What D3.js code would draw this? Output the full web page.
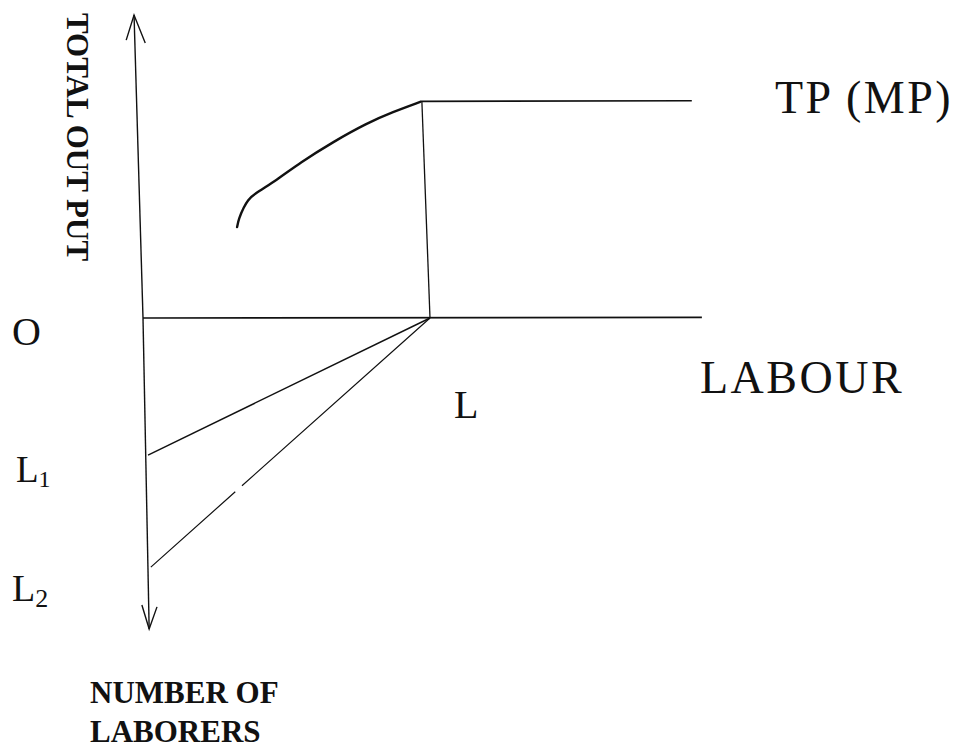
<!DOCTYPE html>
<html>
<head>
<meta charset="utf-8">
<script src="https://d3js.org/d3.v7.min.js"></script>
<style>
body { margin: 0; background: #fff; }
text { font-family: "Liberation Serif", "DejaVu Serif", serif; fill: #111; }
</style>
</head>
<body>
<script>

// diagram values, x = labour units, y = output (up) / labourers (down)
var axisUp = [[0, 0], [-0.16, 9.9]];
var axisDown = [[0, 0], [0.11, -10.16]];
var arrowUp = [[-0.30, 9.08], [-0.16, 9.9], [0.04, 8.99]];
var arrowDown = [[-0.02, -9.38], [0.11, -10.16], [0.25, -9.44]];
var labourAxis = [[0, 0], [9.98, 0.02]];

var tpCurve = [[1.68, 2.97], [1.71, 3.24], [1.80, 3.63], [1.88, 3.86], [1.96, 4.02],
  [2.39, 4.51], [2.80, 5.07], [3.39, 5.75], [4.0, 6.37], [4.46, 6.73], [4.95, 7.06]];
var tpFlat = [[4.95, 7.08], [9.8, 7.1]];
var lPoint = [5.125, 0];
var dropLine = [lPoint, [4.98, 7.08]];
var l1 = [0.09, -4.48];
var l2 = [0.14, -8.14];

var labels = ["O", "L", "TP (MP)", "LABOUR"];
var yTitle = "TOTAL OUT PUT";
var bottomTitle = ["NUMBER OF", "LABORERS"];

var width = 956, height = 751;

var x = d3.scaleLinear()
.domain([0, 10])
.range([143, 703]);

var y = d3.scaleLinear()
.domain([-10, 10])
.range([624, 12]);

var line = d3.line()
.x(function(d) { return x(d[0]); })
.y(function(d) { return y(d[1]); });

var curve = d3.line()
.curve(d3.curveBasis)
.x(function(d) { return x(d[0]); })
.y(function(d) { return y(d[1]); });

var svg = d3.select("body").append("svg")
.attr("width", width)
.attr("height", height);

var g = svg.append("g")
.attr("fill", "none")
.attr("stroke", "#111");

// axes
g.append("path").attr("d", line(axisUp)).attr("stroke-width", 1.4);
g.append("path").attr("d", line(axisDown)).attr("stroke-width", 1.4);
g.append("path").attr("d", line(arrowUp)).attr("stroke-width", 1.4);
g.append("path").attr("d", line(arrowDown)).attr("stroke-width", 1.4);
g.append("path").attr("d", line(labourAxis)).attr("stroke-width", 1.6);

// total product
g.append("path").attr("d", curve(tpCurve)).attr("stroke-width", 2.4).attr("stroke-linecap", "round");
g.append("path").attr("d", line(tpFlat)).attr("stroke-width", 1.6);
g.append("path").attr("d", line(dropLine)).attr("stroke-width", 1.3);

// lines down to L1 and L2
g.append("path").attr("d", line([lPoint, l1])).attr("stroke-width", 1.4);
g.append("path").attr("d", line([lPoint, l2])).attr("stroke-width", 1.2)
.attr("stroke-dasharray", "252 9 200");

// labels
svg.append("text").attr("x", 12).attr("y", 345).attr("font-size", 40).text(labels[0]);
svg.append("text").attr("x", 454).attr("y", 418).attr("font-size", 40).text(labels[1]);
svg.append("text").attr("x", 775).attr("y", 113).attr("font-size", 46)
.attr("letter-spacing", 2.5).text(labels[2]);
svg.append("text").attr("x", 700).attr("y", 393).attr("font-size", 46)
.attr("letter-spacing", 2.5).text(labels[3]);

var t1 = svg.append("text").attr("x", 16).attr("y", 482).attr("font-size", 37);
t1.append("tspan").text("L");
t1.append("tspan").attr("font-size", 24).attr("dy", 5).text("1");

var t2 = svg.append("text").attr("x", 12).attr("y", 601).attr("font-size", 38);
t2.append("tspan").text("L");
t2.append("tspan").attr("font-size", 26).attr("dy", 6).text("2");

svg.append("text")
.attr("transform", "translate(67,13) rotate(90)")
.attr("font-size", 31)
.attr("font-weight", "bold")
.text(yTitle);

svg.selectAll(".btitle")
.data(bottomTitle)
.enter().append("text")
.attr("class", "btitle")
.attr("x", 90)
.attr("y", function(d, i) { return 703 + i * 39; })
.attr("font-size", 31)
.attr("font-weight", "bold")
.text(function(d) { return d; });

</script>
</body>
</html>
